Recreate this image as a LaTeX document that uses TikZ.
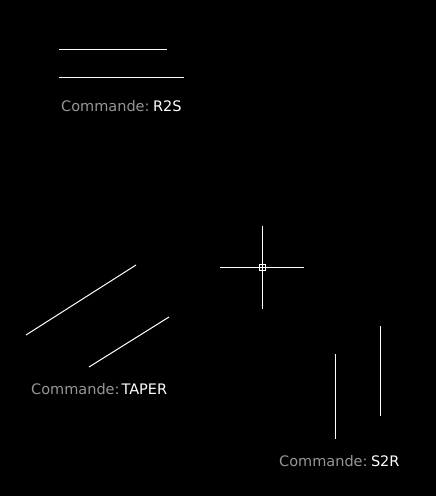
\documentclass[tikz,border=0pt]{standalone}
\usepackage{fontspec}
\newfontfamily\cadfont{DejaVu Sans}
\definecolor{promptgray}{RGB}{150,150,150}
\begin{document}
\begin{tikzpicture}[x=1pt,y=-1pt,
  cadline/.style={draw=white,line width=1pt},
  prompt/.style={anchor=base west,inner sep=0pt,font=\cadfont\fontsize{14.5}{16}\selectfont}]
\fill[black] (0,0) rectangle (436,496);
\useasboundingbox (0,0) rectangle (436,496);
% R2S
\coordinate (r1a) at (59,49); \coordinate (r1b) at (167,49);
\coordinate (r2a) at (59,77); \coordinate (r2b) at (184,77);
\draw[cadline] (r1a) -- (r1b);
\draw[cadline] (r2a) -- (r2b);
\node[prompt] (tr2s) at (61,111) {\textcolor{promptgray}{Commande:}\hspace{3.5pt}\textcolor{white}{R2S}};
% crosshair
\coordinate (cc) at (262.5,267.5);
\coordinate (ct) at (262.5,226); \coordinate (cb) at (262.5,309);
\coordinate (cl) at (220,267.5); \coordinate (cr) at (304,267.5);
\draw[cadline] (ct) -- (cb);
\draw[cadline] (cl) -- (cr);
\node[draw=white,fill=black,line width=1pt,minimum size=6pt,inner sep=0pt] (box) at (cc) {};
\draw[white,line width=1pt] (box.north) -- (box.south) (box.west) -- (box.east);
% TAPER
\coordinate (t1a) at (26,335); \coordinate (t1b) at (136,265);
\coordinate (t2a) at (89,367); \coordinate (t2b) at (169,317);
\draw[cadline] (t1a) -- (t1b);
\draw[cadline] (t2a) -- (t2b);
\node[prompt] (ttaper) at (31,394) {\textcolor{promptgray}{Commande:}\hspace{2pt}\textcolor{white}{TAPER}};
% S2R
\coordinate (s1a) at (335.5,354); \coordinate (s1b) at (335.5,439);
\coordinate (s2a) at (380.5,326); \coordinate (s2b) at (380.5,416);
\draw[cadline] (s1a) -- (s1b);
\draw[cadline] (s2a) -- (s2b);
\node[prompt] (ts2r) at (279,466) {\textcolor{promptgray}{Commande:}\hspace{3.5pt}\textcolor{white}{S2R}};
\end{tikzpicture}
\end{document}
